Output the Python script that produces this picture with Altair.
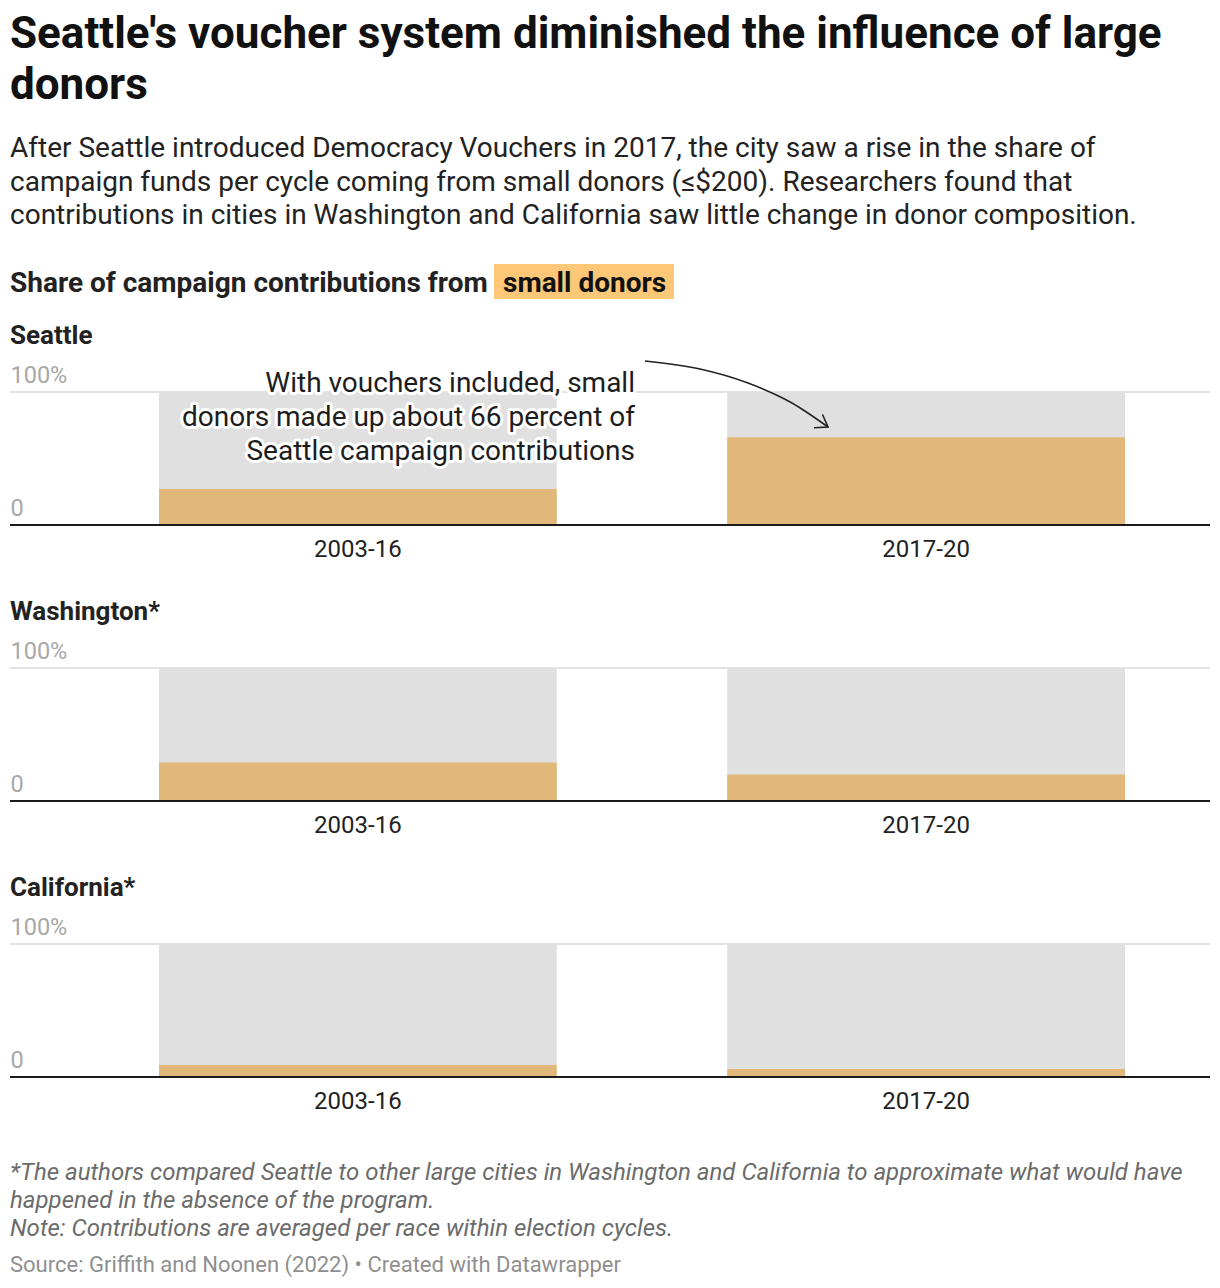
import altair as alt
import pandas as pd

# ---------------- data ----------------
regions = ["Seattle", "Washington*", "California*"]
periods = ["2003-16", "2017-20"]
seattle_share = [27, 66]
washington_share = [29, 20]
california_share = [9, 6]
series = [seattle_share, washington_share, california_share]
grid_values = [100]

title_lines = ["Seattle's voucher system diminished the influence of large", "donors"]
subtitle_lines = [
    "After Seattle introduced Democracy Vouchers in 2017, the city saw a rise in the share of",
    "campaign funds per cycle coming from small donors (\u2264$200). Researchers found that",
    "contributions in cities in Washington and California saw little change in donor composition.",
]
header_text = "Share of campaign contributions from"
header_key = "small donors"
annotation_lines = [
    "With vouchers included, small",
    "donors made up about 66 percent of",
    "Seattle campaign contributions",
]
footer_lines = [
    "*The authors compared Seattle to other large cities in Washington and California to approximate what would have",
    "happened in the absence of the program.",
    "Note: Contributions are averaged per race within election cycles.",
]
source_line = "Source: Griffith and Noonen (2022) \u2022 Created with Datawrapper"

FONT = "Roboto"
W = 1200
PANEL_H = 133
GAP = 143
BAR = "#e1b87a"
BG = "#e0e0e0"
HIGHLIGHT = "#fcc878"

dummy = pd.DataFrame({"k": [0]})


def txt(s, x, y, size, weight="normal", color="#222", align="left", style="normal", halo=False):
    kw = dict(text=s, font=FONT, fontSize=size, fontWeight=weight, color=color,
              align=align, baseline="alphabetic", fontStyle=style)
    if halo:
        kw.update(stroke="white", strokeWidth=6, strokeJoin="round", color="white")
    return alt.Chart(dummy).mark_text(**kw).encode(x=alt.value(x), y=alt.value(y))


# ---------------- header ----------------
header_layers = [
    txt(title_lines[0], 0, 40, 44, "bold", "#111"),
    txt(title_lines[1], 0, 91, 44, "bold", "#111"),
]
for i, line in enumerate(subtitle_lines):
    header_layers.append(txt(line, 0, 149 + 33.5 * i, 28, "normal", "#222"))
header_layers.append(txt(header_text, 0, 284, 28, "bold", "#222"))
header_layers.append(
    alt.Chart(dummy).mark_rect(color=HIGHLIGHT).encode(
        x=alt.value(484), x2=alt.value(664), y=alt.value(256), y2=alt.value(291)
    )
)
header_layers.append(txt(header_key, 493, 284, 28, "bold", "#111"))
header = alt.layer(*header_layers).properties(width=W, height=384 - GAP)


# ---------------- panels ----------------
def panel(name, values, annotate=False):
    df = pd.DataFrame({"period": periods, "share": values, "total": [100] * len(periods)})
    xenc = alt.X(
        "period:N",
        sort=periods,
        scale=alt.Scale(domain=periods, range=[149, 1115], paddingInner=0.3, paddingOuter=0),
        axis=alt.Axis(
            title=None, domain=False, ticks=False, tickSize=0, labelPadding=12,
            labelFontSize=24, labelColor="#222", labelFont=FONT, labelAngle=0,
        ),
    )
    yscale = alt.Scale(domain=[0, 100], nice=False)
    base = alt.Chart(df)
    grid = alt.Chart(pd.DataFrame({"g": grid_values})).mark_rule(color="#e3e3e3", strokeWidth=2).encode(
        x=alt.value(0), x2=alt.value(W), y=alt.Y("g:Q", scale=yscale)
    )
    bg = base.mark_bar(color=BG).encode(
        x=xenc,
        y=alt.Y(
            "total:Q",
            scale=yscale,
            axis=alt.Axis(
                title=None, values=[0, 100], domain=False, ticks=False, tickSize=0,
                labelPadding=0, labelAlign="left", labelBaseline="alphabetic",
                labelOffset=-10, labelFontSize=23.5, labelColor="#a8a8a8", labelFont=FONT,
                labelExpr="datum.value == 100 ? '100%' : '0'",
                grid=False,
            ),
        ),
    )
    fg = base.mark_bar(color=BAR).encode(x=xenc, y=alt.Y("share:Q", scale=yscale))
    baseline = alt.Chart(dummy).mark_rule(color="#1a1a1a", strokeWidth=2).encode(
        x=alt.value(0), x2=alt.value(W), y=alt.value(PANEL_H)
    )
    layers = [grid, bg, fg, baseline, txt(name, 0, -48, 26, "bold", "#222")]
    if annotate:
        for i, line in enumerate(annotation_lines):
            layers.append(txt(line, 625, 0 + 34 * i, 28, align="right", halo=True))
        for i, line in enumerate(annotation_lines):
            layers.append(txt(line, 625, 0 + 34 * i, 28, "normal", "#1d1d1d", align="right"))
    main = alt.layer(*layers)
    if annotate:
        curve = pd.DataFrame({
            "i": [0, 1, 2, 3, 4],
            "px": [635, 690, 738, 782, 818],
            "py": [-31, -23, -9, 11, 35],
        })
        head = pd.DataFrame({"i": [0, 1, 2], "px": [804, 818, 812.5], "py": [35.7, 35, 22.5]})
        arrow = alt.Chart(curve).mark_line(color="#222", strokeWidth=1.6, interpolate="monotone").encode(
            x=alt.X("px:Q", scale=None, axis=None), y=alt.Y("py:Q", scale=None, axis=None), order="i:O"
        )
        arrowhead = alt.Chart(head).mark_line(color="#222", strokeWidth=1.6).encode(
            x=alt.X("px:Q", scale=None, axis=None), y=alt.Y("py:Q", scale=None, axis=None), order="i:O"
        )
        main = alt.layer(main, arrow, arrowhead).resolve_scale(x="independent", y="independent")
    return main.properties(width=W, height=PANEL_H)


panel_charts = [panel(n, v, annotate=(i == 0)) for i, (n, v) in enumerate(zip(regions, series))]

# ---------------- footer ----------------
footer_layers = []
for i, line in enumerate(footer_lines):
    footer_layers.append(txt(line, 0, -40 + 28 * i, 24, "normal", "#6b6b6b", style="italic"))
footer_layers.append(txt(source_line, 0, 52, 22, "normal", "#8f8f8f"))
footer = alt.layer(*footer_layers).properties(width=W, height=60)

chart = (
    alt.vconcat(header, *panel_charts, footer, spacing=GAP, bounds="flush")
    .properties(padding={"left": 1, "top": 0, "right": 0, "bottom": 0})
    .configure(font=FONT)
    .configure_view(stroke=None)
)

chart.save("out.html", embed_options={"renderer": "svg", "actions": False})
